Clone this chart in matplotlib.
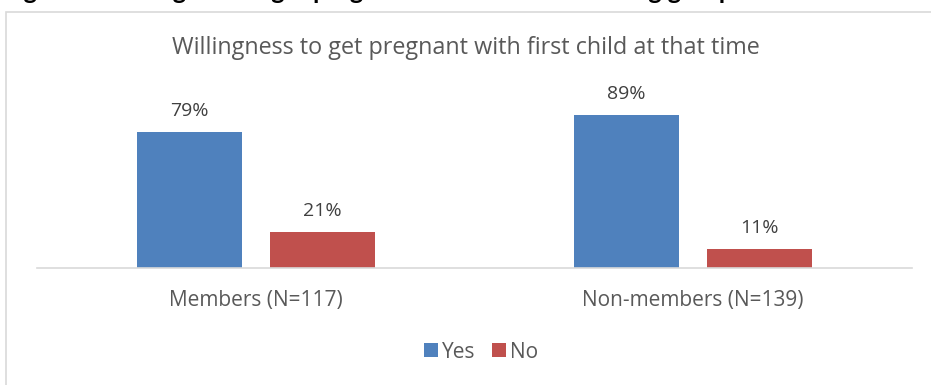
import matplotlib
matplotlib.use("Agg")
import matplotlib.pyplot as plt
from matplotlib.patches import Rectangle
import numpy as np

plt.rcParams['font.family'] = ['Open Sans', 'DejaVu Sans']

# data
groups = ['Members (N=117)', 'Non-members (N=139)']
yes = [79, 89]
no = [21, 11]
series_names = ['Yes', 'No']
title = 'Willingness to get pregnant with first child at that time'
header = 'Figure 9: Willingness to get pregnant with first child among group members and non-members'

blue = '#4F81BD'
red = '#C0504D'
W, H = 931, 385

fig = plt.figure(figsize=(W / 100, H / 100), dpi=100)

# clipped heading above the chart box (only descenders visible)
fig.text(3 / W, 1 + 1 / H, header, fontsize=18, fontweight='bold', color='black',
         va='baseline', ha='left', family=['Lato', 'DejaVu Sans'])

# chart border
fig.patches.append(Rectangle((5.5 / W, -0.1), 1.1, 1.1 - 12 / H,
                             transform=fig.transFigure, fill=False,
                             edgecolor='#D9D9D9', lw=1.2))

ax = fig.add_axes([37 / W, 1 - 268 / H, 875 / W, 188 / H])
x = np.arange(len(groups))
w = 0.24
off = 0.152
b1 = ax.bar(x - off, yes, w, color=blue, label=series_names[0])
b2 = ax.bar(x + off, no, w, color=red, label=series_names[1])
for bars, vals in [(b1, yes), (b2, no)]:
    for b, v in zip(bars, vals):
        ax.text(b.get_x() + b.get_width() / 2, v + 7, f'{v}%', ha='center', va='bottom',
                fontsize=14, color='#404040')

ax.set_xlim(-0.5, 1.5)
ax.set_ylim(0, 188 / 1.72)
ax.set_yticks([])
ax.set_xticks(x)
ax.set_xticklabels(groups, fontsize=15, color='#595959')
ax.tick_params(axis='x', length=0, pad=16)
for s in ['top', 'right', 'left']:
    ax.spines[s].set_visible(False)
ax.spines['bottom'].set_color('#D9D9D9')
ax.spines['bottom'].set_linewidth(1.2)

fig.text(466 / W, 1 - 48 / H, title, ha='center', va='center', fontsize=16.8, color='#595959')

fig.legend(loc='center', bbox_to_anchor=(481 / W, 1 - 352 / H), ncol=2, frameon=False,
           fontsize=15, handlelength=0.65, handleheight=0.65, handletextpad=0.2,
           columnspacing=0.8, labelcolor='#595959')

fig.savefig('out.png', dpi=100)
